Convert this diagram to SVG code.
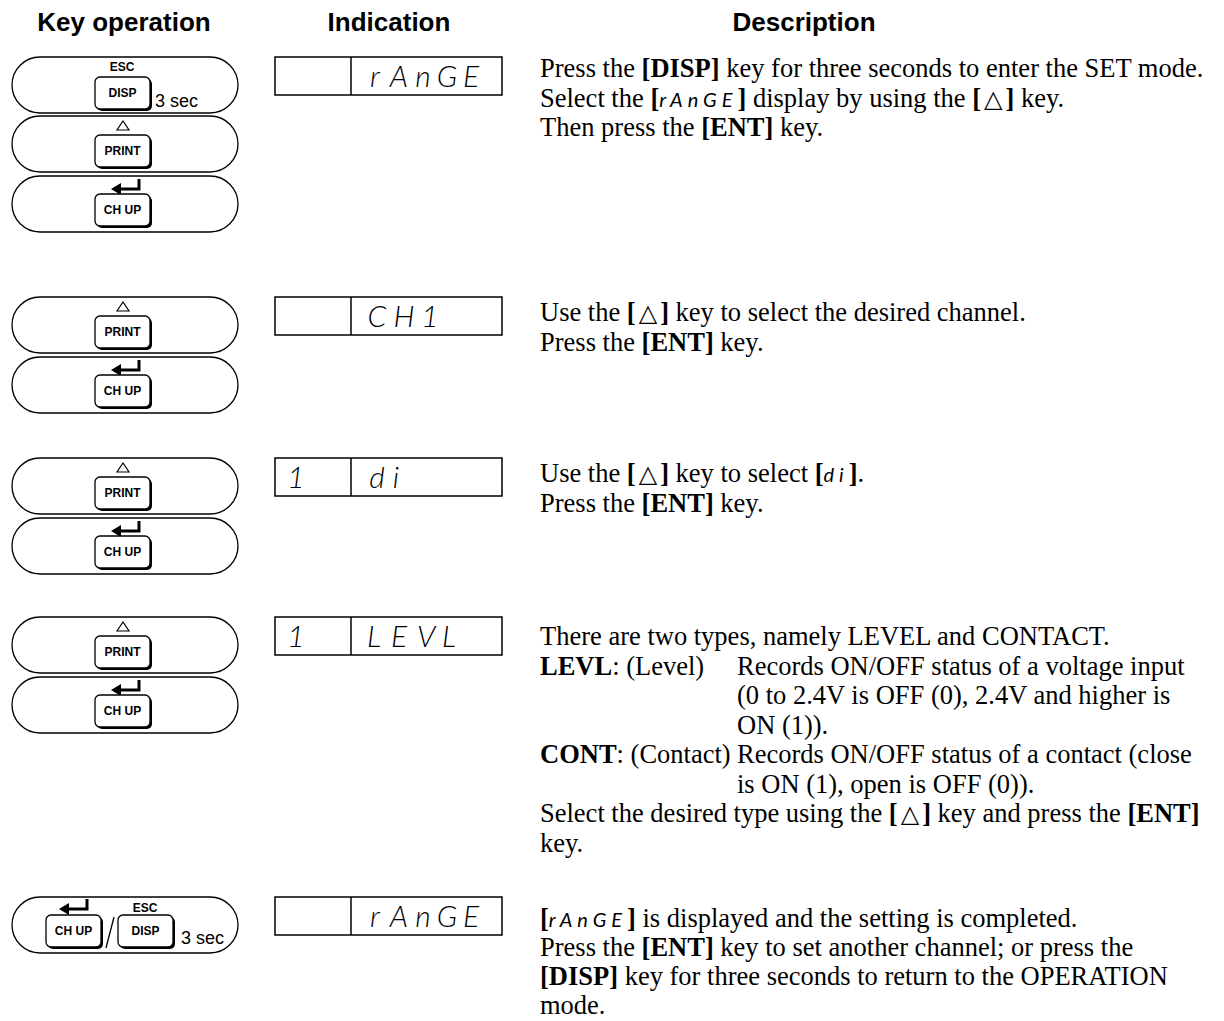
<svg xmlns="http://www.w3.org/2000/svg" xmlns:xlink="http://www.w3.org/1999/xlink" width="1224" height="1021" viewBox="0 0 1224 1021">
<style>
.hdr{font-family:"Liberation Sans",Arial,sans-serif;font-weight:bold;font-size:26px;text-anchor:middle}
.pill{fill:#fff;stroke:#000;stroke-width:1.3}
.kbox{fill:#fff;stroke:#000;stroke-width:1.3}
.klbl{font-family:"Liberation Sans",Arial,sans-serif;font-weight:bold;font-size:12px;text-anchor:middle}
.sec{font-family:"Liberation Sans",Arial,sans-serif;font-size:18px}
.disp{fill:#fff;stroke:#000;stroke-width:1.5}
.dl{stroke:#000;stroke-width:1.5}
.seg{font-family:"Lato","Inter","DejaVu Sans",sans-serif;font-weight:300;font-style:oblique;font-size:30px;text-anchor:middle}
.desc{font-family:"Liberation Serif","Times New Roman",serif;font-size:26.5px}
.b{font-weight:bold}
.s7{font-family:"Lato","Inter","DejaVu Sans",sans-serif;font-weight:400;font-style:oblique;font-size:20px;letter-spacing:5px}
.tri{font-family:"DejaVu Sans",sans-serif;font-size:24px}
.ticon{fill:none;stroke:#000;stroke-width:1.2}
.arr{fill:none;stroke:#000;stroke-width:3}
.slash{stroke:#000;stroke-width:1.3}
</style>
<defs>
<g id="kb"><rect x="2" y="2" width="55" height="32" rx="5" fill="#000"/><rect width="55" height="32" rx="5" class="kbox"/></g>
<g id="ent"><path d="M28 0 V10 H8" class="arr"/><polygon points="0,10 10,4 10,16" fill="#000"/></g>
<polygon id="up" points="-6,9 6,9 0,0" class="ticon"/>
</defs>

<g id="headers">
<text class="hdr" x="124" y="31">Key operation</text>
<text class="hdr" x="389" y="31">Indication</text>
<text class="hdr" x="804" y="31">Description</text>
</g>

<!-- Row 1 -->
<g id="row1-key-disp">
<rect class="pill" x="12" y="57" width="226" height="56" rx="28"/>
<text class="klbl" x="122" y="71">ESC</text>
<use xlink:href="#kb" x="95" y="77"/>
<text class="klbl" x="122.5" y="97">DISP</text>
<text class="sec" x="155" y="107">3 sec</text>
</g>
<g id="row1-key-print">
<rect class="pill" x="12" y="116" width="226" height="56" rx="28"/>
<use xlink:href="#up" x="123" y="121"/>
<use xlink:href="#kb" x="95" y="135"/>
<text class="klbl" x="122.5" y="155">PRINT</text>
</g>
<g id="row1-key-chup">
<rect class="pill" x="12" y="176" width="226" height="56" rx="28"/>
<use xlink:href="#ent" x="111" y="179"/>
<use xlink:href="#kb" x="95" y="194"/>
<text class="klbl" x="122.5" y="214">CH UP</text>
</g>
<g id="row1-display">
<rect class="disp" x="275" y="57" width="227" height="38"/>
<line class="dl" x1="351" y1="57" x2="351" y2="95"/>
<text class="seg" x="375 399 423 447 471" y="87">rAnGE</text>
</g>
<g id="row1-desc" class="desc">
<text x="540" y="77">Press the <tspan class="b">[DISP]</tspan> key for three seconds to enter the SET mode.</text>
<text x="540" y="106.5">Select the <tspan class="b">[</tspan><tspan class="s7">rAnGE</tspan><tspan class="b">]</tspan> display by using the <tspan class="b">[</tspan><tspan class="tri" dx="3">△</tspan><tspan class="b" dx="3">]</tspan> key.</text>
<text x="540" y="136">Then press the <tspan class="b">[ENT]</tspan> key.</text>
</g>

<!-- Row 2 -->
<g id="row2-key-print">
<rect class="pill" x="12" y="297" width="226" height="56" rx="28"/>
<use xlink:href="#up" x="123" y="302"/>
<use xlink:href="#kb" x="95" y="316"/>
<text class="klbl" x="122.5" y="336">PRINT</text>
</g>
<g id="row2-key-chup">
<rect class="pill" x="12" y="357" width="226" height="56" rx="28"/>
<use xlink:href="#ent" x="111" y="360"/>
<use xlink:href="#kb" x="95" y="375"/>
<text class="klbl" x="122.5" y="395">CH UP</text>
</g>
<g id="row2-display">
<rect class="disp" x="275" y="297" width="227" height="38"/>
<line class="dl" x1="351" y1="297" x2="351" y2="335"/>
<text class="seg" x="377 404 430" y="327">CH1</text>
</g>
<g id="row2-desc" class="desc">
<text x="540" y="321">Use the <tspan class="b">[</tspan><tspan class="tri" dx="3">△</tspan><tspan class="b" dx="3">]</tspan> key to select the desired channel.</text>
<text x="540" y="350.5">Press the <tspan class="b">[ENT]</tspan> key.</text>
</g>

<!-- Row 3 -->
<g id="row3-key-print">
<rect class="pill" x="12" y="458" width="226" height="56" rx="28"/>
<use xlink:href="#up" x="123" y="463"/>
<use xlink:href="#kb" x="95" y="477"/>
<text class="klbl" x="122.5" y="497">PRINT</text>
</g>
<g id="row3-key-chup">
<rect class="pill" x="12" y="518" width="226" height="56" rx="28"/>
<use xlink:href="#ent" x="111" y="521"/>
<use xlink:href="#kb" x="95" y="536"/>
<text class="klbl" x="122.5" y="556">CH UP</text>
</g>
<g id="row3-display">
<rect class="disp" x="275" y="458" width="227" height="38"/>
<line class="dl" x1="351" y1="458" x2="351" y2="496"/>
<text class="seg" x="296" y="488">1</text>
<text class="seg" x="377 396" y="488">di</text>
</g>
<g id="row3-desc" class="desc">
<text x="540" y="482">Use the <tspan class="b">[</tspan><tspan class="tri" dx="3">△</tspan><tspan class="b" dx="3">]</tspan> key to select <tspan class="b">[</tspan><tspan class="s7">di</tspan><tspan class="b">]</tspan>.</text>
<text x="540" y="511.5">Press the <tspan class="b">[ENT]</tspan> key.</text>
</g>

<!-- Row 4 -->
<g id="row4-key-print">
<rect class="pill" x="12" y="617" width="226" height="56" rx="28"/>
<use xlink:href="#up" x="123" y="622"/>
<use xlink:href="#kb" x="95" y="636"/>
<text class="klbl" x="122.5" y="656">PRINT</text>
</g>
<g id="row4-key-chup">
<rect class="pill" x="12" y="677" width="226" height="56" rx="28"/>
<use xlink:href="#ent" x="111" y="680"/>
<use xlink:href="#kb" x="95" y="695"/>
<text class="klbl" x="122.5" y="715">CH UP</text>
</g>
<g id="row4-display">
<rect class="disp" x="275" y="617" width="227" height="38"/>
<line class="dl" x1="351" y1="617" x2="351" y2="655"/>
<text class="seg" x="296" y="647">1</text>
<text class="seg" x="374 399 426 449" y="647">LEVL</text>
</g>
<g id="row4-desc" class="desc">
<text x="540" y="645">There are two types, namely LEVEL and CONTACT.</text>
<text x="540" y="674.5"><tspan class="b">LEVL</tspan>: (Level)</text>
<text x="737" y="674.5">Records ON/OFF status of a voltage input</text>
<text x="737" y="704">(0 to 2.4V is OFF (0), 2.4V and higher is</text>
<text x="737" y="733.5">ON (1)).</text>
<text x="540" y="763"><tspan class="b">CONT</tspan>: (Contact)</text>
<text x="737" y="763">Records ON/OFF status of a contact (close</text>
<text x="737" y="792.5">is ON (1), open is OFF (0)).</text>
<text x="540" y="822">Select the desired type using the <tspan class="b">[</tspan><tspan class="tri" dx="3">△</tspan><tspan class="b" dx="3">]</tspan> key and press the <tspan class="b">[ENT]</tspan></text>
<text x="540" y="851.5">key.</text>
</g>

<!-- Row 5 -->
<g id="row5-key">
<rect class="pill" x="12" y="897" width="226" height="56" rx="28"/>
<use xlink:href="#ent" x="59" y="899"/>
<use xlink:href="#kb" x="46" y="915"/>
<text class="klbl" x="73.5" y="935">CH UP</text>
<line class="slash" x1="106" y1="948" x2="114" y2="917"/>
<text class="klbl" x="145" y="912">ESC</text>
<use xlink:href="#kb" x="118" y="915"/>
<text class="klbl" x="145.5" y="935">DISP</text>
<text class="sec" x="181" y="944">3 sec</text>
</g>
<g id="row5-display">
<rect class="disp" x="275" y="897" width="227" height="38"/>
<line class="dl" x1="351" y1="897" x2="351" y2="935"/>
<text class="seg" x="375 399 423 447 471" y="927">rAnGE</text>
</g>
<g id="row5-desc" class="desc">
<text x="540" y="927"><tspan class="b">[</tspan><tspan class="s7">rAnGE</tspan><tspan class="b">]</tspan> is displayed and the setting is completed.</text>
<text x="540" y="956">Press the <tspan class="b">[ENT]</tspan> key to set another channel; or press the</text>
<text x="540" y="985"><tspan class="b">[DISP]</tspan> key for three seconds to return to the OPERATION</text>
<text x="540" y="1014">mode.</text>
</g>
</svg>
